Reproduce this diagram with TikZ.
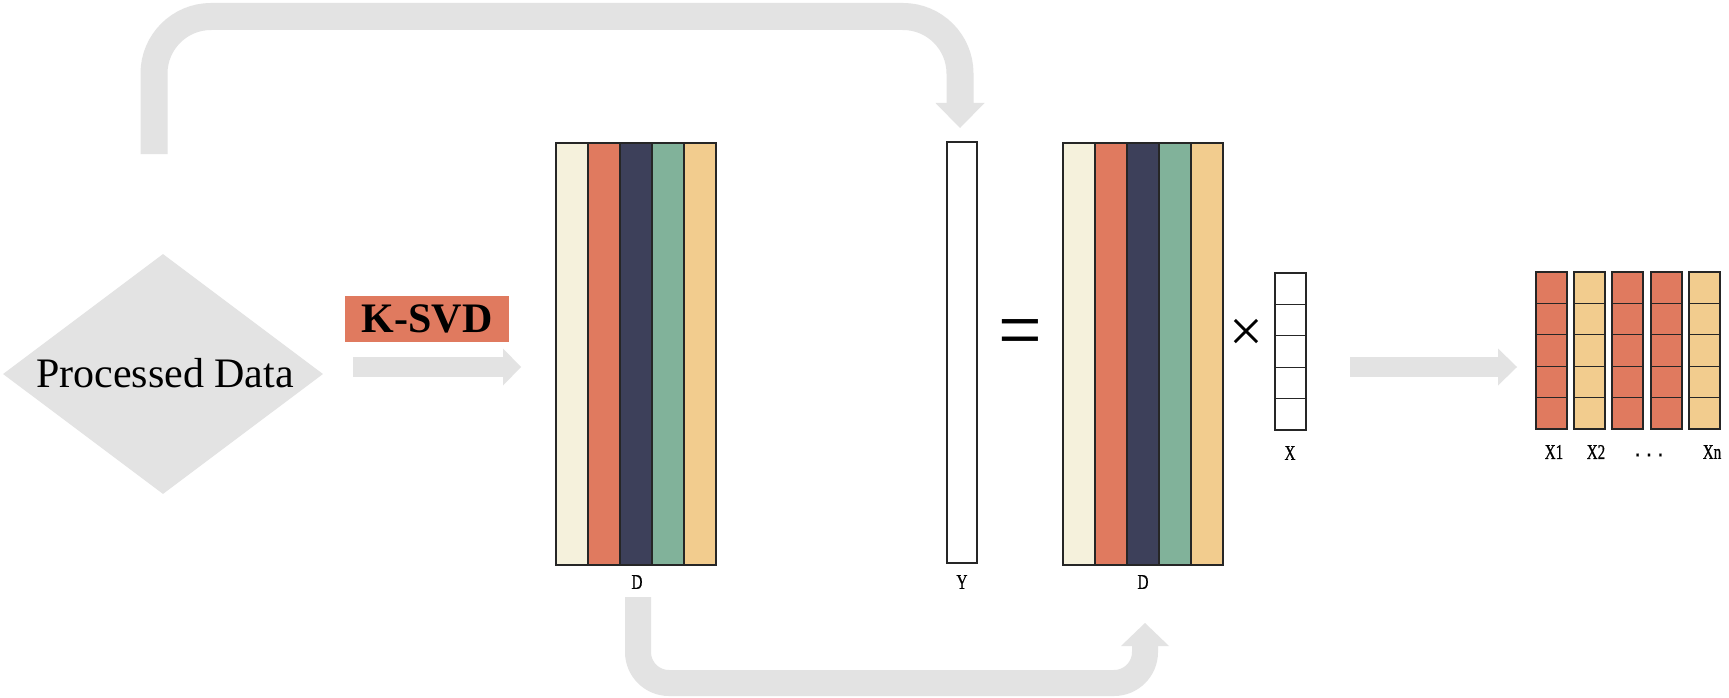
\documentclass[tikz,border=0pt]{standalone}
\usepackage{fontspec}
\setmainfont{Liberation Serif}
\newfontfamily\monofont[FakeBold=0.8]{Liberation Mono}
\newfontfamily\labfont[FakeBold=0.8]{Liberation Serif}
\usetikzlibrary{shapes.geometric,calc}
\definecolor{cream}{RGB}{245,241,220}
\definecolor{kred}{RGB}{224,122,95}
\definecolor{navy}{RGB}{61,64,90}
\definecolor{kgreen}{RGB}{129,178,154}
\definecolor{kyellow}{RGB}{242,204,142}
\definecolor{agray}{RGB}{227,227,227}
\newcommand{\labtext}[1]{\scalebox{0.72}[1]{#1}}
\begin{document}
\begin{tikzpicture}[x=1pt,y=-1pt,
  flowline/.style={draw=agray},
  tipfill/.style={fill=agray},
  cellline/.style={draw=black!85, line width=1.3pt},
  outline/.style={draw=black!85, line width=1.5pt, inner sep=0pt},
  lab/.style={font={\labfont\fontsize{21}{21}\selectfont}, inner sep=0pt},
]
\fill[white] (0,0) rectangle (1729,698);
\useasboundingbox (0,0) rectangle (1729,698);

% diamond
\node[diamond, fill=agray, minimum width=320pt, minimum height=240pt, inner sep=0pt] (pd) at (163,374) {};
\node[font={\fontsize{42}{42}\selectfont}, inner sep=0pt] (pdt) at (165,373) {Processed Data};

% K-SVD
\node[fill=kred, minimum width=164pt, minimum height=46pt, inner sep=0pt, font={\bfseries\fontsize{42}{42}\selectfont}] (ksvd) at (427,319) {K-SVD};
\coordinate (ka1) at (353,367);
\coordinate (ka2) at (505,367);
\coordinate (katip) at (521,367);
\draw[flowline, line width=20pt] (ka1) -- (ka2);
\fill[tipfill] ($(ka2)+(-2,-18.5)$) -- ($(ka2)+(-2,18.5)$) -- (katip) -- cycle;

% D left
\foreach \c [count=\i from 0] in {cream,kred,navy,kgreen,kyellow}
  \filldraw[fill=\c, cellline] ({556+\i*32},143) rectangle ({588+\i*32},565);
\node[outline, minimum width=160pt, minimum height=422pt] (D1) at (636,354) {};
\node[lab] (Dl1) at (637,582) {\labtext{D}};

% Y
\node[outline, minimum width=30pt, minimum height=421pt] (Yb) at (962,352.5) {};
\node[lab] (Yl) at (962,582) {\labtext{Y}};

% equals
\node[font={\fontsize{76}{76}\selectfont}, inner sep=0pt] (eq) at (1020.5,340) {\scalebox{1.02}[1.15]{=}};

% D right
\foreach \c [count=\i from 0] in {cream,kred,navy,kgreen,kyellow}
  \filldraw[fill=\c, cellline] ({1063+\i*32},143) rectangle ({1095+\i*32},565);
\node[outline, minimum width=160pt, minimum height=422pt] (D2) at (1143,354) {};
\node[lab] (Dl2) at (1143,582) {\labtext{D}};

% times
\node[font={\fontsize{60}{60}\selectfont}, inner sep=0pt] (tm) at (1246,335.5) {×};

% X vector
\foreach \k in {0,...,4}
  \draw[cellline] (1275,{273+\k*31.4}) rectangle (1306,{273+(\k+1)*31.4});
\node[outline, minimum width=31pt, minimum height=157pt] (Xv) at (1290.5,351.5) {};
\node[lab] (Xl) at (1290,453) {\labtext{X}};

% right arrow
\coordinate (ra1) at (1350,367);
\coordinate (ra2) at (1500,367);
\coordinate (ratip) at (1517,367);
\draw[flowline, line width=20pt] (ra1) -- (ra2);
\fill[tipfill] ($(ra2)+(-2,-18.5)$) -- ($(ra2)+(-2,18.5)$) -- (ratip) -- cycle;

% result columns
\foreach \xs/\c/\n in {1536/kred/c1,1574/kyellow/c2,1612/kred/c3,1651/kred/c4,1689/kyellow/c5} {
  \foreach \k in {0,...,4}
    \filldraw[fill=\c, cellline] (\xs,{272+\k*31.4}) rectangle ({\xs+31},{272+(\k+1)*31.4});
  \node[outline, line width=1.3pt, minimum width=31pt, minimum height=157pt] (\n) at ({\xs+15.5},350.5) {};
}
\node[lab] (l1) at (1554,452) {\labtext{X1}};
\node[lab] (l2) at (1596,452) {\labtext{X2}};
\node[lab, font={\monofont\fontsize{19}{19}\selectfont}] (l3) at (1649,455) {...};
\node[lab] (l5) at (1712,452) {\labtext{Xn}};

% top feedback arrow
\coordinate (tstart) at (154,154);
\coordinate (trow) at (560,16.5);
\coordinate (tbase) at (960,105);
\coordinate (ttip) at (960,128);
\draw[flowline, line width=27pt, rounded corners=57pt] (tstart) |- (trow) -| (tbase);
\fill[tipfill] ($(tbase)+(-24.5,-2)$) -- ($(tbase)+(24.5,-2)$) -- (ttip) -- cycle;

% bottom feedback arrow
\coordinate (bstart) at (638,597);
\coordinate (brow) at (900,683);
\coordinate (bbase) at (1145,644);
\coordinate (btip) at (1145,623);
\draw[flowline, line width=26pt, rounded corners=31pt] (bstart) |- (brow) -| (bbase);
\fill[tipfill] ($(bbase)+(-24,2)$) -- ($(bbase)+(24,2)$) -- (btip) -- cycle;
\end{tikzpicture}
\end{document}
